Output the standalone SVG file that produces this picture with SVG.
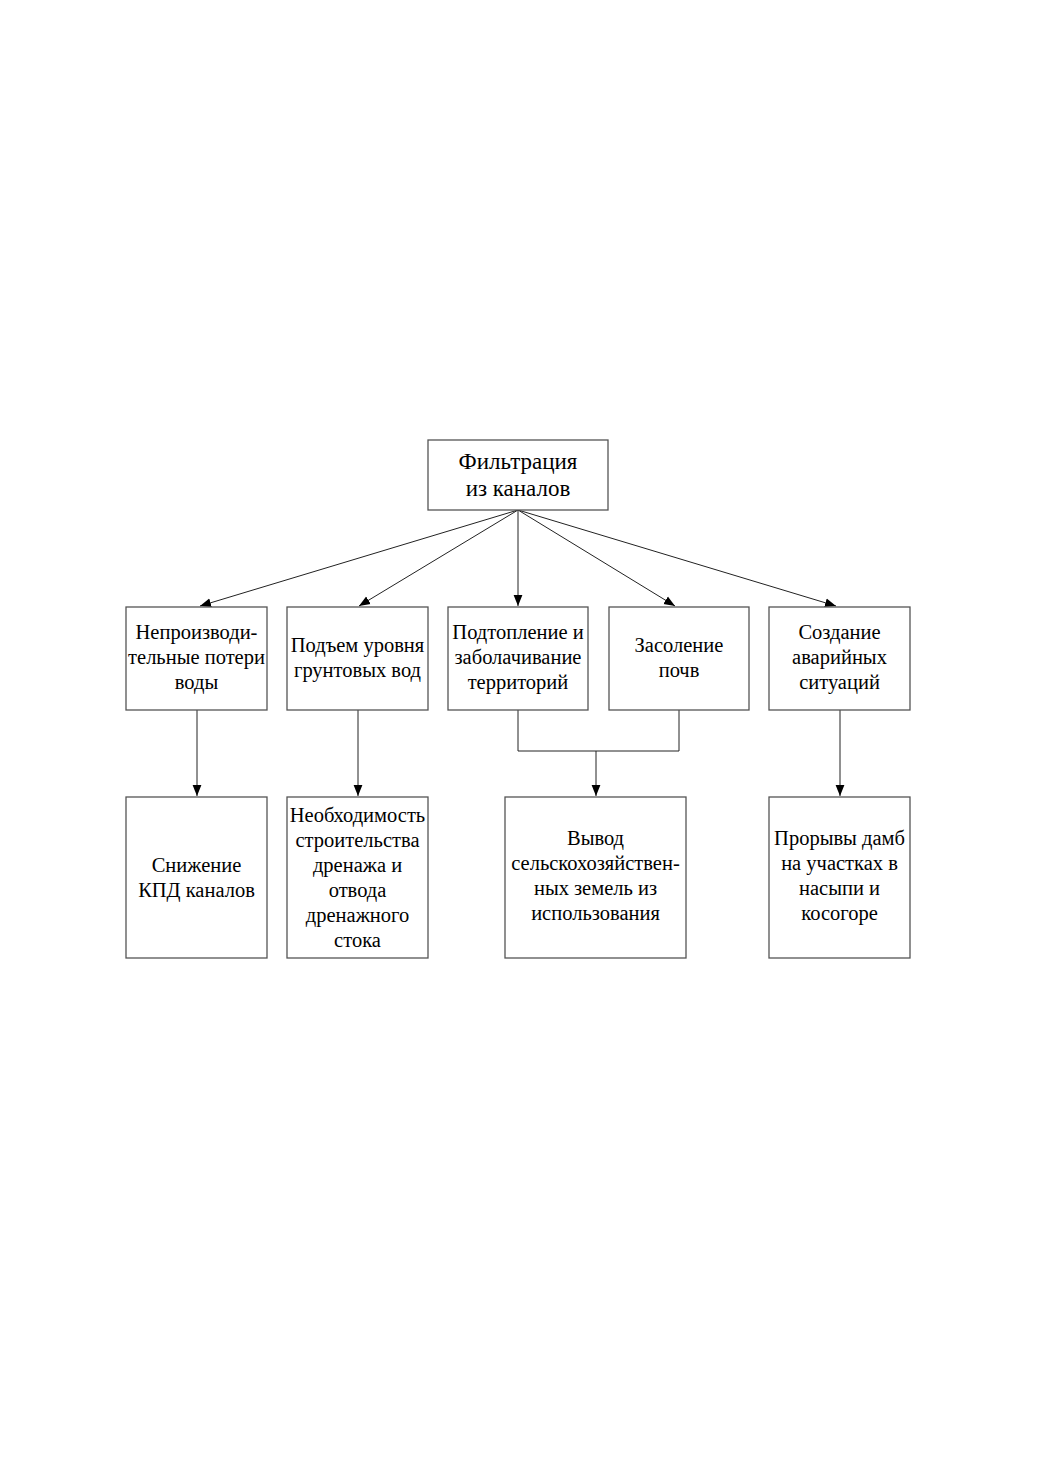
<svg xmlns="http://www.w3.org/2000/svg" width="1040" height="1473" viewBox="0 0 1040 1473">
<style>
.box{fill:#fff;stroke:#555;stroke-width:1.3}
.t{font-family:"Liberation Serif","Times New Roman",serif;font-size:20.5px;fill:#000;text-anchor:middle}
.h{font-size:23px}
.c{fill:none;stroke:#222;stroke-width:1}
</style>
<defs>
<marker id="ah" viewBox="0 0 10 10" refX="10" refY="5" markerWidth="11" markerHeight="11" markerUnits="userSpaceOnUse" orient="auto">
<path d="M0,1 L10,5 L0,9 Z" fill="#000"/>
</marker>
</defs>
<rect width="1040" height="1473" fill="#fff"/>
<g id="connectors">
<line class="c" x1="518" y1="510" x2="200" y2="606" marker-end="url(#ah)"/>
<line class="c" x1="518" y1="510" x2="359" y2="606" marker-end="url(#ah)"/>
<line class="c" x1="518" y1="510" x2="518" y2="606" marker-end="url(#ah)"/>
<line class="c" x1="518" y1="510" x2="675" y2="606" marker-end="url(#ah)"/>
<line class="c" x1="518" y1="510" x2="836" y2="606" marker-end="url(#ah)"/>
<line class="c" x1="197" y1="710" x2="197" y2="796" marker-end="url(#ah)"/>
<line class="c" x1="358" y1="710" x2="358" y2="796" marker-end="url(#ah)"/>
<polyline class="c" points="518,710 518,751 679,751 679,710"/>
<line class="c" x1="596" y1="751" x2="596" y2="796" marker-end="url(#ah)"/>
<line class="c" x1="840" y1="710" x2="840" y2="796" marker-end="url(#ah)"/>
</g>
<g id="n0"><rect class="box" x="428" y="440" width="180" height="70"/>
<text class="t h" x="518" y="469">Фильтрация</text><text class="t h" x="518" y="496">из каналов</text></g>
<g id="n1"><rect class="box" x="126" y="607" width="141" height="103"/>
<text class="t" x="196.5" y="639">Непроизводи-</text><text class="t" x="196.5" y="664">тельные потери</text><text class="t" x="196.5" y="689">воды</text></g>
<g id="n2"><rect class="box" x="287" y="607" width="141" height="103"/>
<text class="t" x="357.5" y="652">Подъем уровня</text><text class="t" x="357.5" y="677">грунтовых вод</text></g>
<g id="n3"><rect class="box" x="448" y="607" width="140" height="103"/>
<text class="t" x="518" y="639">Подтопление и</text><text class="t" x="518" y="664">заболачивание</text><text class="t" x="518" y="689">территорий</text></g>
<g id="n4"><rect class="box" x="609" y="607" width="140" height="103"/>
<text class="t" x="679" y="652">Засоление</text><text class="t" x="679" y="677">почв</text></g>
<g id="n5"><rect class="box" x="769" y="607" width="141" height="103"/>
<text class="t" x="839.5" y="639">Создание</text><text class="t" x="839.5" y="664">аварийных</text><text class="t" x="839.5" y="689">ситуаций</text></g>
<g id="n6"><rect class="box" x="126" y="797" width="141" height="161"/>
<text class="t" x="196.5" y="872">Снижение</text><text class="t" x="196.5" y="897">КПД каналов</text></g>
<g id="n7"><rect class="box" x="287" y="797" width="141" height="161"/>
<text class="t" x="357.5" y="822">Необходимость</text><text class="t" x="357.5" y="847">строительства</text><text class="t" x="357.5" y="872">дренажа и</text><text class="t" x="357.5" y="897">отвода</text><text class="t" x="357.5" y="922">дренажного</text><text class="t" x="357.5" y="947">стока</text></g>
<g id="n8"><rect class="box" x="505" y="797" width="181" height="161"/>
<text class="t" x="595.5" y="845">Вывод</text><text class="t" x="595.5" y="870">сельскохозяйствен-</text><text class="t" x="595.5" y="895">ных земель из</text><text class="t" x="595.5" y="920">использования</text></g>
<g id="n9"><rect class="box" x="769" y="797" width="141" height="161"/>
<text class="t" x="839.5" y="845">Прорывы дамб</text><text class="t" x="839.5" y="870">на участках в</text><text class="t" x="839.5" y="895">насыпи и</text><text class="t" x="839.5" y="920">косогоре</text></g>
</svg>
